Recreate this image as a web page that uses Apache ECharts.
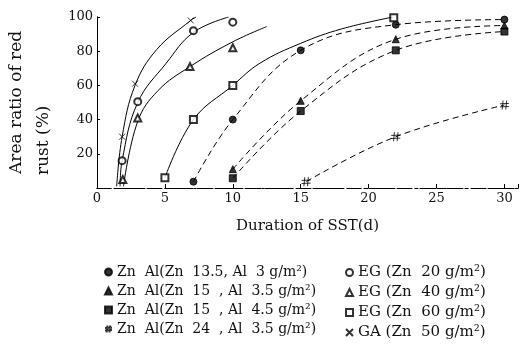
<!DOCTYPE html>
<html>
<head>
<meta charset="utf-8">
<script src="https://cdn.jsdelivr.net/npm/echarts@6/dist/echarts.min.js"></script>
<style>
html,body{margin:0;padding:0;background:#fff;}
#chart{width:521px;height:351px;}
</style>
</head>
<body>
<div id="chart"></div>
<script>
// ---- data ----
const seriesNames = [
  'Zn  Al(Zn  13.5, Al  3 g/m²)',
  'Zn  Al(Zn  15  , Al  3.5 g/m²)',
  'Zn  Al(Zn  15  , Al  4.5 g/m²)',
  'Zn  Al(Zn  24  , Al  3.5 g/m²)',
  'EG (Zn  20 g/m²)',
  'EG (Zn  40 g/m²)',
  'EG (Zn  60 g/m²)',
  'GA (Zn  50 g/m²)'
];
// measured points [days, area %]
const znAl135 = [[7.1,3.7],[10,40],[15,80.5],[22,95.5],[30,98.5]];
const znAl15a = [[10,11],[15,51],[22,87],[30,95]];
const znAl15b = [[10,5.7],[15,45],[22,80.5],[30,91.5]];
const znAl24  = [[15.4,3.7],[22,30],[30,48.5]];
const eg20    = [[1.85,16],[3,50.5],[7.1,92],[10,97]];
const eg40    = [[1.9,5],[3,41],[6.85,71],[10,82]];
const eg60    = [[5,6],[7.1,40],[10,60],[21.85,99.5]];
const ga50    = [[1.85,30],[2.8,61],[6.9,98]];
// fitted (solid) curves
const ga50Fit = [[1.45,1],[1.85,30],[2.8,60],[4.4,81],[6.9,98],[7.3,100]];
const eg20Fit = [[1.7,1],[1.85,16],[3,50],[5.1,73],[7.1,91],[9.7,100]];
const eg40Fit = [[1.95,1],[3,39],[4.5,57],[6.85,71],[10,85.5],[12.5,94.4]];
const eg60Fit = [[5,6],[7.1,40],[10,60],[12,73],[15,84.6],[18,93],[21.8,100]];

const xTicks = [0,5,10,15,20,25,30];
const yTicks = [20,40,60,80,100];

const FONT = 'DejaVu Serif';
const sharp = 'path://M3.5,0L2.5,10M7.5,0L6.5,10M0,3.6L10,3.2M0,7L10,6.6';
const cross = 'path://M0,0L10,10M10,0L0,10';

function markers(name, data, symbol, size) {
  return {
    type: 'scatter', name: name, data: data, symbol: symbol, symbolSize: size,
    itemStyle: { color: '#000', borderColor: '#000', borderWidth: 1 },
    z: 5, silent: true
  };
}
function openMarkers(name, data, symbol, size) {
  return {
    type: 'scatter', name: name, data: data, symbol: symbol, symbolSize: size,
    itemStyle: { color: '#000', borderWidth: 1 },
    z: 5, silent: true
  };
}
function curve(id, data, dashed) {
  return {
    type: 'line', name: id, data: data, smooth: 0.4, showSymbol: false,
    lineStyle: { color: '#000', width: 1, type: dashed ? [6, 4] : 'solid' },
    z: 3, silent: true
  };
}

const chart = echarts.init(document.getElementById('chart'), null, { renderer: 'canvas' });
const option = {
  backgroundColor: '#fff',
  animation: false,
  textStyle: { fontFamily: FONT, color: '#111' },
  grid: { left: 97, right: 2, top: 17, bottom: 163 },
  xAxis: [{
    type: 'value', min: 0, max: 31, interval: 5,
    axisLine: { show: true, lineStyle: { color: '#000', width: 1, type: [14, 4, 3, 4] } },
    axisTick: { show: true, inside: true, length: 4, lineStyle: { color: '#000' } },
    axisLabel: { fontFamily: FONT, fontSize: 13, color: '#111', margin: 4,
      formatter: v => xTicks.indexOf(v) >= 0 ? String(v) : '' },
    splitLine: { show: false },
    name: 'Duration of SST(d)', nameLocation: 'middle', nameGap: 31,
    nameTextStyle: { fontFamily: FONT, fontSize: 15, color: '#111' }
  }, {
    type: 'value', min: 0, max: 31, position: 'top',
    axisLine: { show: true, lineStyle: { color: '#000', width: 1, type: [9, 3, 2, 3] } },
    axisTick: { show: false }, axisLabel: { show: false }, splitLine: { show: false }
  }],
  yAxis: [{
    type: 'value', min: 0, max: 100, interval: 20,
    axisLine: { show: true, lineStyle: { color: '#000', width: 1 } },
    axisTick: { show: true, inside: true, length: 3, lineStyle: { color: '#000' } },
    axisLabel: { fontFamily: FONT, fontSize: 13, color: '#111', margin: 4,
      formatter: v => yTicks.indexOf(v) >= 0 ? String(v) : '' },
    splitLine: { show: false }
  }, {
    type: 'value', min: 0, max: 100, position: 'right',
    axisLine: { show: true, lineStyle: { color: '#000', width: 1 } },
    axisTick: { show: false }, axisLabel: { show: false }, splitLine: { show: false }
  }],
  legend: [{
    orient: 'vertical', left: 99, top: 260, itemGap: 5, itemWidth: 7, itemHeight: 7,
    textStyle: { fontFamily: FONT, fontSize: 14, color: '#111' },
    data: seriesNames.slice(0, 4), selectedMode: false
  }, {
    orient: 'vertical', left: 340, top: 260, itemGap: 5, itemWidth: 7, itemHeight: 7,
    textStyle: { fontFamily: FONT, fontSize: 15, color: '#111' },
    data: seriesNames.slice(4), selectedMode: false
  }],
  graphic: [{
    type: 'text', x: 17, y: 174, rotation: Math.PI / 2,
    style: { text: 'Area ratio of red', font: '17px "DejaVu Serif"', fill: '#111',
      textAlign: 'left', textVerticalAlign: 'middle' }
  }, {
    type: 'text', x: 44, y: 175, rotation: Math.PI / 2,
    style: { text: 'rust (%)', font: '17px "DejaVu Serif"', fill: '#111',
      textAlign: 'left', textVerticalAlign: 'middle' }
  }],
  series: [
    curve('fit-ga50', ga50Fit, false),
    curve('fit-eg20', eg20Fit, false),
    curve('fit-eg40', eg40Fit, false),
    curve('fit-eg60', eg60Fit, false),
    curve('line-znal135', znAl135, true),
    curve('line-znal15a', znAl15a, true),
    curve('line-znal15b', znAl15b, true),
    curve('line-znal24', znAl24, true),
    markers(seriesNames[0], znAl135, 'circle', 7),
    markers(seriesNames[1], znAl15a, 'triangle', 7),
    markers(seriesNames[2], znAl15b, 'rect', 7),
    markers(seriesNames[3], znAl24, sharp, 9),
    openMarkers(seriesNames[4], eg20, 'emptyCircle', 7),
    openMarkers(seriesNames[5], eg40, 'emptyTriangle', 7),
    openMarkers(seriesNames[6], eg60, 'emptyRect', 7),
    markers(seriesNames[7], ga50, cross, 6)
  ]
};
chart.setOption(option);
</script>
</body>
</html>
